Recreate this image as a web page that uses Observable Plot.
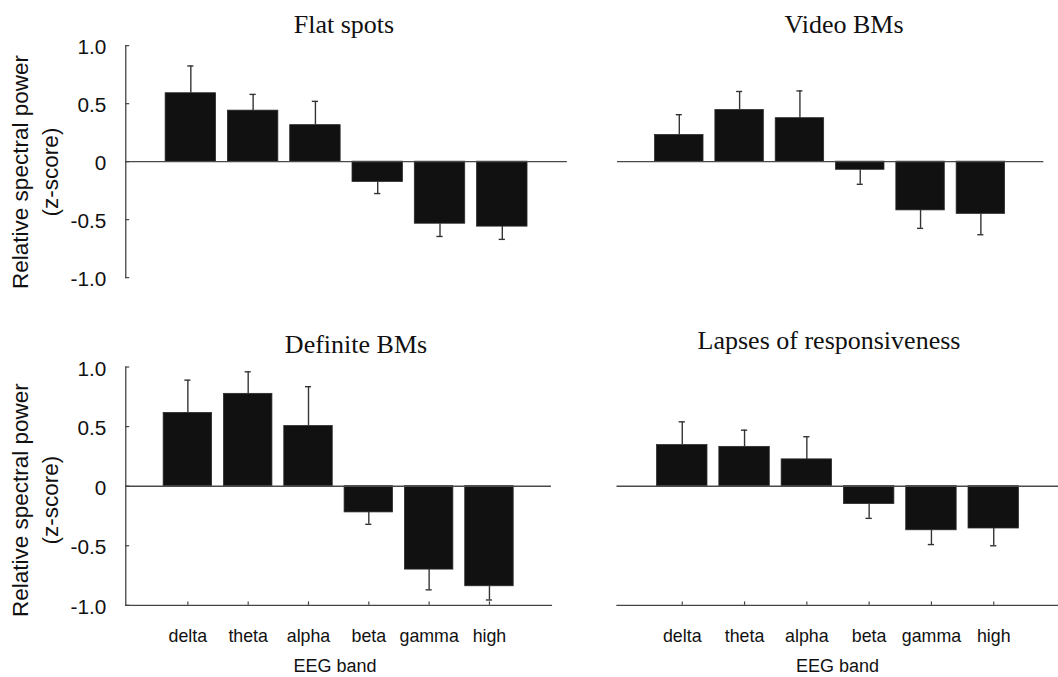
<!DOCTYPE html>
<html>
<head>
<meta charset="utf-8">
<script src="https://cdn.jsdelivr.net/npm/d3@7"></script>
<script src="https://cdn.jsdelivr.net/npm/@observablehq/plot@0.6"></script>
<style>
  html, body { margin: 0; padding: 0; background: #fff; overflow: hidden; }
  #chart { position: relative; width: 1058px; height: 677px; overflow: hidden; background: #fff; }
  #chart svg { position: absolute; left: 0; top: 0; overflow: visible; }
</style>
</head>
<body>
<div id="chart"></div>
<script>
// EEG frequency bands on the x axis
const bands = ["delta", "theta", "alpha", "beta", "gamma", "high"];

// Mean relative spectral power (z-score) and standard error per band
const flatSpotsMean = [0.59, 0.44, 0.315, -0.175, -0.535, -0.56];
const flatSpotsSE   = [0.235, 0.14, 0.205, 0.10, 0.11, 0.11];

const videoBMsMean = [0.23, 0.445, 0.375, -0.07, -0.42, -0.45];
const videoBMsSE   = [0.175, 0.16, 0.235, 0.125, 0.155, 0.18];

const definiteBMsMean = [0.615, 0.775, 0.505, -0.22, -0.70, -0.84];
const definiteBMsSE   = [0.275, 0.185, 0.33, 0.10, 0.17, 0.115];

const lapsesMean = [0.345, 0.33, 0.225, -0.15, -0.37, -0.355];
const lapsesSE   = [0.195, 0.14, 0.19, 0.12, 0.12, 0.145];

// Axis ticks and texts
const yTicks = [-1, -0.5, 0, 0.5, 1];
const yTickLabels = ["-1.0", "-0.5", "0", "0.5", "1.0"];
const panelTitles = ["Flat spots", "Video BMs", "Definite BMs", "Lapses of responsiveness"];
const yTitleLines = ["Relative spectral power", "(z-score)"];
const xTitle = "EEG band";

const W = 1070, H = 677;
const padInner = 0.19, padOuter = 1 - (1 - padInner) / 2;
const sans = "'Liberation Sans', Arial, Helvetica, sans-serif";
const serif = "'Liberation Serif', 'Times New Roman', serif";

const panels = [
  {title: panelTitles[0], mean: flatSpotsMean, se: flatSpotsSE,
   frame: {left: 126.7, right: 573.3, top: 45.7, bottom: 280.3}, yAxis: true, xAxis: false,
   titlePos: [344, 33]},
  {title: panelTitles[1], mean: videoBMsMean, se: videoBMsSE,
   frame: {left: 624, right: 1055.2, top: 45.7, bottom: 280.3}, yAxis: false, xAxis: false,
   titlePos: [844, 33]},
  {title: panelTitles[2], mean: definiteBMsMean, se: definiteBMsSE,
   frame: {left: 126.7, right: 557.2, top: 370.7, bottom: 611.7}, yAxis: true, xAxis: true,
   titlePos: [356, 353], xTitleX: 335},
  {title: panelTitles[3], mean: lapsesMean, se: lapsesSE,
   frame: {left: 623.5, right: 1070, top: 370.7, bottom: 611.7}, yAxis: false, xAxis: true,
   titlePos: [829, 348.5], xTitleX: 837.5}
];

const chart = document.getElementById("chart");

for (const p of panels) {
  const f = p.frame;
  const frameW = f.right - f.left, frameH = f.bottom - f.top;
  const step = frameW / (bands.length - padInner + 2 * padOuter);
  const bandW = step * (1 - padInner);
  const capHalf = 3.5;

  const rows = bands.map((b, i) => ({
    band: b,
    mean: p.mean[i],
    end: p.mean[i] + Math.sign(p.mean[i]) * p.se[i]
  }));

  const marks = [
    Plot.barY(rows, {x: "band", y: "mean", fill: "#111", stroke: "#2a2a2a", strokeWidth: 0.8}),
    Plot.ruleY([0], {stroke: "#4a4a4a", strokeWidth: 1.4}),
    Plot.ruleX(rows, {x: "band", y1: "mean", y2: "end", stroke: "#333", strokeWidth: 1.4}),
    Plot.tickY(rows, {x: "band", y: "end", stroke: "#333", strokeWidth: 1.4,
                      insetLeft: bandW / 2 - capHalf, insetRight: bandW / 2 - capHalf})
  ];

  if (p.yAxis) {
    marks.push(
      Plot.frame({anchor: "left", stroke: "#444", strokeWidth: 1.3}),
      Plot.tickY(yTicks, {y: d => d, stroke: "#444", strokeWidth: 1.2, insetRight: frameW - 4}),
      Plot.axisY(yTicks, {tickSize: 0, tickPadding: 19.7, dy: 2, fontSize: 21,
                          tickFormat: d => yTickLabels[yTicks.indexOf(d)], label: null})
    );
  }
  if (p.xAxis) {
    marks.push(
      Plot.frame({anchor: "bottom", stroke: "#444", strokeWidth: 1.3}),
      Plot.tickX(bands, {x: d => d, stroke: "#444", strokeWidth: 1.2, insetTop: frameH - 3.5}),
      Plot.axisX({tickSize: 0, tickPadding: 24.5, fontSize: 18, label: null})
    );
  }

  const svg = Plot.plot({
    width: W,
    height: H,
    marginLeft: f.left,
    marginRight: W - f.right,
    marginTop: f.top,
    marginBottom: H - f.bottom,
    x: {type: "band", domain: bands, paddingInner: padInner, paddingOuter: padOuter, align: 0.5, axis: null},
    y: {domain: [-1, 1], axis: null},
    style: {fontFamily: sans, color: "#111", background: "transparent", overflow: "visible"},
    marks
  });
  chart.appendChild(svg);
}

// Panel titles, y-axis titles and x-axis titles
const overlay = d3.create("svg")
  .attr("width", 1058)
  .attr("height", 677)
  .style("position", "absolute")
  .style("left", 0)
  .style("top", 0);

for (const p of panels) {
  overlay.append("text")
    .attr("x", p.titlePos[0])
    .attr("y", p.titlePos[1])
    .attr("text-anchor", "middle")
    .attr("font-family", serif)
    .attr("font-size", 26)
    .attr("fill", "#111")
    .text(p.title);

  if (p.yAxis) {
    const cy = (p.frame.top + p.frame.bottom) / 2 + 9;
    const baselines = [27.5, 57.5];
    yTitleLines.forEach((line, i) => {
      overlay.append("text")
        .attr("transform", `translate(${baselines[i]},${cy}) rotate(-90)`)
        .attr("text-anchor", "middle")
        .attr("font-family", sans)
        .attr("font-size", 22.5)
        .attr("fill", "#111")
        .text(line);
    });
  }
  if (p.xAxis) {
    overlay.append("text")
      .attr("x", p.xTitleX)
      .attr("y", 672)
      .attr("text-anchor", "middle")
      .attr("font-family", sans)
      .attr("font-size", 18)
      .attr("fill", "#111")
      .text(xTitle);
  }
}
chart.appendChild(overlay.node());
</script>
</body>
</html>
